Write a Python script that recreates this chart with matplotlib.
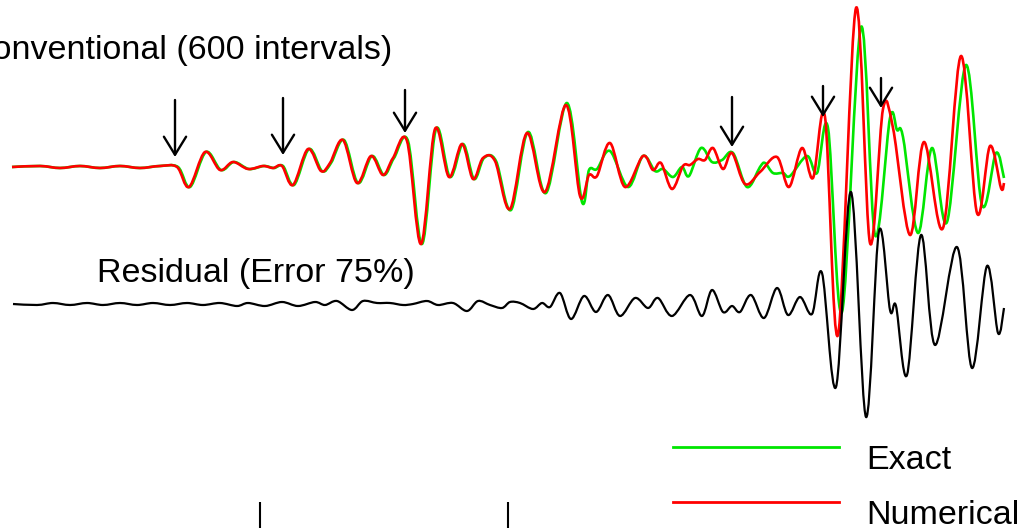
import numpy as np
import matplotlib.pyplot as plt
from matplotlib.path import Path
from matplotlib.patches import PathPatch

plt.rcParams['font.family'] = ['Liberation Sans', 'DejaVu Sans']

# Numerical trace (red): time (samples) and amplitude
t_num = [12, 40, 60, 80, 100, 120, 140, 160, 177, 189, 205, 220, 233, 248, 263, 273,
         282, 293, 308, 321, 330, 343, 357, 371, 383, 393, 407, 421, 435, 449, 462, 473,
         483, 495, 510, 527, 545, 566, 580, 589, 597, 610, 625, 643, 653, 661, 672, 683,
         690, 698, 705, 713, 723, 732, 745, 760, 777, 789, 802, 813, 825, 838, 856, 870,
         883, 893, 910, 924, 943, 961, 977, 990, 1001, 1004]
a_num = [0, 1, -1, 1, -1, 1, -1, 1, 0, -20, 15, -3, 5, -2, 1, -1,
         1, -18, 18, -4, 4, 27, -16, 11, -8, 9, 26, -77, 38, -10, 23, -12,
         9, 6, -42, 34, -25, 62, -29, -8, -9, 24, -20, 11, -3, 4, -22, 1,
         2, 8, 7, 19, -2, 14, -17, -5, 10, -20, 19, -11, 50, -168, 159, -76,
         58, 39, -68, 25, -61, 111, -46, 21, -21, -16]

# Exact trace (green)
t_exact = [12, 40, 60, 80, 100, 120, 140, 160, 178, 190, 206, 221, 234, 249, 264, 274,
           283, 294, 309, 322, 331, 344, 358, 372, 384, 394, 408, 422, 436, 450, 463, 474,
           484, 496, 511, 528, 546, 567, 582, 589, 597, 610, 628, 643, 655, 663, 673, 682,
           689, 701, 712, 722, 733, 747, 760, 765, 773, 783, 790, 807, 817, 828, 842, 861,
           875, 890, 897, 903, 918, 932, 947, 966, 982, 996, 1004]
a_exact = [0, 1, -1, 1, -1, 1, -1, 1, 0, -20, 15, -3, 5, -2, 1, -1,
           1, -18, 18, -4, 4, 27, -16, 11, -8, 9, 26, -77, 38, -10, 23, -12,
           9, 6, -43, 35, -26, 64, -35, -3, -2, 16, -20, 11, -4, -2, -10, 0,
           -9, 19, 5, 7, 14, -20, 0, 4, -6, -6, -9, 11, -6, 39, -145, 140,
           -68, 49, 37, 30, -66, 19, -55, 102, -38, 14, -11]

# Residual (black)
t_res = [13, 37, 53, 70, 87, 103, 120, 137, 153, 170, 187, 203, 220, 237, 248, 265,
         282, 298, 315, 325, 337, 352, 363, 377, 390, 403, 413, 427, 438, 453, 467, 478,
         490, 502, 510, 520, 533, 542, 550, 560, 571, 584, 596, 608, 620, 635, 648, 658,
         672, 690, 702, 712, 723, 732, 740, 751, 764, 777, 788, 800, 812, 822, 836, 851,
         866, 879, 890, 896, 907, 921, 935, 957, 972, 987, 998, 1004]
a_res = [0, -1, 1, -1, 1, -1, 1, -1, 1, -1, 1, -1, 1, -2, 1, -2,
         2, -2, 2, -1, 3, -6, 3, 1, 1, -1, 0, 3, -1, 1, -7, 3,
         -1, -4, 2, 1, -5, 1, -3, 11, -15, 8, -8, 9, -12, 6, -4, 6,
         -12, 9, -12, 14, -8, -2, -8, 9, -14, 16, -11, 7, -10, 31, -83, 112,
         -113, 73, -6, -2, -71, 69, -41, 57, -64, 38, -29, -4]

# arrows: time, gap between tip and baseline, shaft length
arrow_t = [175, 283, 405, 732, 823, 881]
arrow_gap = [10, 12, 34, 20, 50, 59]
arrow_len = [57, 57, 43, 50, 31, 30]

scale_ticks = [260, 508]

base_top = 167
base_res = 304


def smooth_path(t, a, base):
    # Catmull-Rom curve through the read points, as cubic Bezier segments
    p = np.column_stack([t, base - np.asarray(a, float)])
    n = len(p)
    verts = [p[0]]
    codes = [Path.MOVETO]
    for i in range(n - 1):
        p0 = p[i - 1] if i > 0 else p[i]
        p1, p2 = p[i], p[i + 1]
        p3 = p[i + 2] if i + 2 < n else p[i + 1]
        verts += [p1 + (p2 - p0) / 6, p2 - (p3 - p1) / 6, p2]
        codes += [Path.CURVE4] * 3
    return Path(verts, codes)


fig = plt.figure(figsize=(10.22, 5.28), dpi=100)
ax = fig.add_axes([0, 0, 1, 1])
ax.set_xlim(0, 1022)
ax.set_ylim(528, 0)
ax.axis('off')

green = '#00e600'
red = '#ff0000'
ax.add_patch(PathPatch(smooth_path(t_exact, a_exact, base_top), fill=False,
                       edgecolor=green, lw=1.9, joinstyle='round'))
ax.add_patch(PathPatch(smooth_path(t_num, a_num, base_top), fill=False,
                       edgecolor=red, lw=1.9, joinstyle='round'))
ax.add_patch(PathPatch(smooth_path(t_res, a_res, base_res), fill=False,
                       edgecolor='black', lw=1.6, joinstyle='round'))

# arrows marking arrivals
for t, g, L in zip(arrow_t, arrow_gap, arrow_len):
    tip = base_top - g
    ax.annotate('', xy=(t, tip), xytext=(t, tip - L),
                arrowprops=dict(arrowstyle='->,head_length=0.65,head_width=0.4',
                                mutation_scale=20, lw=1.7, color='black',
                                shrinkA=0, shrinkB=0))

fs = 24.5
ax.text(392, 59, 'Conventional (600 intervals)', fontsize=fs, ha='right', va='baseline')
ax.text(97, 282, 'Residual (Error 75%)', fontsize=fs, ha='left', va='baseline')

# time scale ticks
ax.vlines(scale_ticks, 502, 528, color='black', lw=1.5)

# legend
for ly, c, lab in [(447, green, 'Exact'), (502, red, 'Numerical')]:
    ax.plot([673, 839], [ly, ly], color=c, lw=2)
    ax.text(866, ly + 22, lab, fontsize=fs, ha='left', va='baseline')

fig.savefig('out.png', dpi=100)
